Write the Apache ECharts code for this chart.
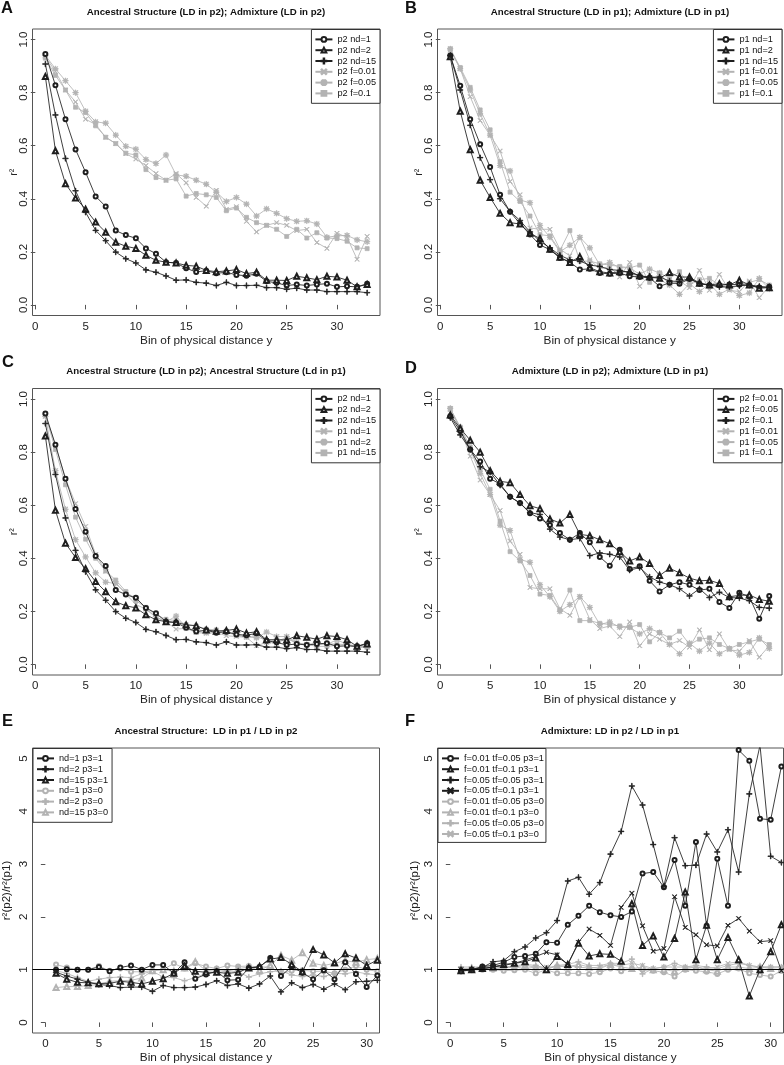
<!DOCTYPE html>
<html>
<head>
<meta charset="utf-8">
<script src="https://cdn.jsdelivr.net/npm/echarts@6/dist/echarts.min.js"></script>
<style>
html,body{margin:0;padding:0;background:#fff;}
#chart{width:784px;height:1065px;}
</style>
</head>
<body>
<div id="chart"></div>
<script>
// ---------- DATA ----------
const bins33 = [1,2,3,4,5,6,7,8,9,10,11,12,13,14,15,16,17,18,19,20,21,22,23,24,25,26,27,28,29,30,31,32,33];
const bins31 = [1,2,3,4,5,6,7,8,9,10,11,12,13,14,15,16,17,18,19,20,21,22,23,24,25,26,27,28,29,30,31];
const xTicks = [0,5,10,15,20,25,30];
const rTicks = [0,0.2,0.4,0.6,0.8,1.0];
const ratioTicks = [0,1,2,3,4,5];

// LD in p2, ancestral structure
const p2_nd1  = [0.946,0.828,0.700,0.586,0.500,0.409,0.371,0.280,0.263,0.251,0.213,0.193,0.161,0.158,0.138,0.124,0.129,0.119,0.123,0.113,0.110,0.117,0.089,0.083,0.073,0.077,0.073,0.077,0.080,0.068,0.070,0.068,0.080];
const p2_nd2  = [0.861,0.581,0.457,0.403,0.361,0.312,0.274,0.236,0.221,0.213,0.187,0.168,0.161,0.158,0.149,0.146,0.130,0.125,0.128,0.133,0.118,0.123,0.093,0.093,0.092,0.108,0.102,0.095,0.108,0.105,0.093,0.068,0.077];
const p2_nd15 = [0.908,0.716,0.552,0.430,0.349,0.281,0.242,0.199,0.174,0.158,0.132,0.123,0.109,0.093,0.094,0.085,0.082,0.073,0.085,0.073,0.073,0.074,0.065,0.065,0.059,0.063,0.056,0.056,0.050,0.050,0.050,0.050,0.046];
// LD in p2, admixture
const p2_f001 = [0.935,0.880,0.810,0.765,0.700,0.680,0.632,0.608,0.570,0.550,0.525,0.495,0.470,0.495,0.460,0.405,0.372,0.432,0.360,0.370,0.315,0.275,0.300,0.310,0.300,0.280,0.285,0.235,0.213,0.270,0.255,0.172,0.258];
const p2_f005 = [0.940,0.890,0.845,0.800,0.730,0.690,0.685,0.640,0.598,0.587,0.548,0.533,0.565,0.490,0.485,0.470,0.455,0.425,0.390,0.405,0.380,0.335,0.362,0.345,0.325,0.315,0.317,0.305,0.255,0.260,0.262,0.245,0.238];
const p2_f01  = [0.930,0.865,0.810,0.745,0.725,0.675,0.632,0.608,0.572,0.565,0.510,0.480,0.470,0.475,0.410,0.420,0.415,0.405,0.355,0.365,0.330,0.310,0.300,0.285,0.258,0.285,0.252,0.272,0.252,0.250,0.240,0.215,0.212];
// LD in p1, ancestral structure
const p1_nd1  = [0.940,0.826,0.700,0.606,0.520,0.415,0.351,0.306,0.265,0.226,0.208,0.177,0.161,0.133,0.136,0.120,0.117,0.120,0.108,0.105,0.102,0.070,0.083,0.080,0.098,0.080,0.074,0.074,0.077,0.077,0.074,0.066,0.068];
const p1_nd2  = [0.935,0.730,0.585,0.470,0.405,0.345,0.310,0.305,0.270,0.250,0.210,0.180,0.160,0.182,0.140,0.125,0.120,0.125,0.125,0.110,0.105,0.100,0.122,0.105,0.105,0.082,0.075,0.080,0.075,0.093,0.075,0.063,0.065];
const p1_nd15 = [0.940,0.810,0.677,0.555,0.472,0.400,0.352,0.318,0.275,0.240,0.215,0.187,0.170,0.165,0.150,0.145,0.133,0.130,0.122,0.110,0.103,0.105,0.090,0.088,0.100,0.080,0.075,0.068,0.068,0.072,0.075,0.070,0.065];
// LD in p1, admixture
const p1_f001 = [0.960,0.890,0.785,0.695,0.640,0.580,0.465,0.415,0.290,0.285,0.285,0.210,0.185,0.255,0.170,0.135,0.145,0.105,0.160,0.070,0.115,0.095,0.075,0.090,0.065,0.130,0.055,0.115,0.055,0.050,0.090,0.027,0.070];
const p1_f005 = [0.965,0.890,0.810,0.720,0.640,0.525,0.505,0.395,0.385,0.300,0.255,0.200,0.225,0.255,0.215,0.150,0.160,0.140,0.140,0.115,0.135,0.120,0.075,0.040,0.080,0.050,0.080,0.040,0.060,0.035,0.045,0.100,0.060];
const p1_f01  = [0.965,0.895,0.820,0.735,0.660,0.540,0.425,0.390,0.335,0.265,0.260,0.205,0.280,0.165,0.165,0.155,0.150,0.145,0.140,0.150,0.085,0.120,0.100,0.125,0.075,0.095,0.100,0.075,0.060,0.075,0.085,0.095,0.075];

// Panel E ratios
const e_nd1_p1  = [1.00,1.01,1.00,1.00,1.05,0.97,1.04,1.08,1.00,1.09,1.09,0.93,1.14,0.83,0.91,0.97,0.80,0.81,1.03,1.05,1.22,0.88,1.06,0.94,0.82,0.99,0.82,1.14,0.92,0.67,0.89];
const e_nd2_p1  = [0.95,0.88,0.82,0.76,0.72,0.70,0.66,0.67,0.67,0.59,0.70,0.66,0.66,0.67,0.72,0.79,0.70,0.73,0.65,0.73,0.88,0.58,0.75,0.66,0.72,0.63,0.73,0.62,0.77,0.78,0.80];
const e_nd15_p1 = [0.93,0.82,0.76,0.75,0.74,0.74,0.78,0.76,0.73,0.78,0.83,0.93,1.07,0.97,0.95,0.95,0.93,0.95,1.03,1.06,1.20,1.23,1.10,0.96,1.38,1.28,1.13,1.30,1.22,1.08,1.18];
const e_nd1_p0  = [1.10,1.04,1.00,1.00,1.07,0.98,1.02,0.96,0.96,0.98,1.00,1.12,1.02,1.12,1.06,1.02,1.08,1.06,1.07,1.05,1.05,0.92,0.98,0.99,0.97,0.97,0.93,1.00,1.07,1.00,0.97];
const e_nd2_p0  = [0.98,0.93,0.85,0.78,0.82,0.85,0.86,0.85,0.92,0.97,0.86,0.85,0.79,0.85,0.93,0.94,0.98,0.96,0.86,0.92,0.96,0.98,0.90,0.87,0.90,0.87,0.93,0.92,0.96,0.92,0.90];
const e_nd15_p0 = [0.66,0.68,0.68,0.70,0.72,0.78,0.79,0.80,0.84,0.98,1.00,0.97,1.03,1.15,0.98,1.00,0.98,1.02,1.05,0.99,1.08,1.27,1.18,1.32,1.12,1.08,1.12,1.17,1.14,1.19,1.21];

// Panel F ratios
const f_001_005_p1 = [0.97,1.00,1.06,1.08,1.14,1.24,1.26,1.30,1.52,1.51,1.85,2.02,2.21,2.09,2.03,2.00,2.10,2.82,2.85,2.56,3.08,2.21,3.42,1.83,3.10,2.21,5.16,4.96,3.86,3.84,4.85];
const f_001_01_p1  = [0.98,1.00,1.02,1.05,1.10,1.12,1.15,1.22,1.00,1.25,1.10,1.50,1.26,1.30,1.29,1.16,2.25,1.46,1.64,1.24,1.59,2.47,1.19,1.84,1.19,1.61,1.19,0.50,1.00,1.34,1.85];
const f_005_005_p1 = [1.00,1.00,1.04,1.15,1.17,1.34,1.43,1.60,1.70,1.93,2.68,2.75,2.43,2.65,3.19,3.62,4.48,4.12,3.37,2.58,3.50,2.97,2.98,3.57,3.23,3.65,2.85,4.33,5.25,3.15,3.03];
const f_005_01_p1  = [1.00,1.00,1.02,1.05,1.08,1.12,1.18,1.25,1.33,1.28,1.10,1.52,1.77,1.65,1.46,2.18,2.45,1.83,1.35,1.40,2.38,1.80,1.66,1.47,1.45,1.84,1.97,1.73,1.53,1.55,0.98];
const f_001_005_p0 = [0.97,0.99,1.00,1.00,0.98,0.99,1.00,0.93,1.00,0.93,0.93,0.93,0.92,0.95,1.02,0.97,1.02,1.00,0.98,0.95,0.87,1.00,0.98,0.96,0.92,1.00,1.02,0.93,0.90,0.87,0.98];
const f_001_01_p0  = [1.00,1.02,1.04,1.03,1.05,1.05,1.08,1.05,1.00,1.08,1.05,1.10,1.05,1.02,1.10,1.05,1.02,1.05,1.00,1.00,0.97,1.02,1.05,1.00,0.97,1.05,1.05,1.02,1.05,1.02,1.00];
const f_005_005_p0 = [1.05,1.05,1.05,1.08,1.05,1.07,1.10,1.08,1.02,1.08,1.10,1.15,1.08,1.08,1.12,1.12,1.20,0.92,1.02,1.05,1.12,1.05,1.08,1.05,1.02,1.08,1.12,1.08,1.05,1.05,1.05];
const f_005_01_p0  = [1.02,1.02,1.03,1.02,1.03,1.05,1.02,1.05,1.05,1.05,1.08,1.05,1.03,1.05,1.10,1.08,1.12,1.08,1.02,1.05,1.05,1.05,1.05,1.02,1.05,1.12,1.15,1.08,1.05,1.05,1.05];

const titles = [
  'Ancestral Structure (LD in p2); Admixture (LD in p2)',
  'Ancestral Structure (LD in p1); Admixture (LD in p1)',
  'Ancestral Structure (LD in p2); Ancestral Structure (Ld in p1)',
  'Admixture (LD in p2); Admixture (LD in p1)',
  'Ancestral Structure:  LD in p1 / LD in p2',
  'Admixture: LD in p2 / LD in p1'
];
const letters = ['A','B','C','D','E','F'];

// ---------- STYLE ----------
const BLACK = '#1e1e1e', GRAY = '#b3b3b3', FRAME = '#555';
const FONT = '"Liberation Sans", Arial, Helvetica, sans-serif';
const PLUS = 'path://M4.45,0H5.55V4.45H10V5.55H5.55V10H4.45V5.55H0V4.45H4.45Z';
const CROSS = 'path://M0,0.8L0.8,0L5,4.2L9.2,0L10,0.8L5.8,5L10,9.2L9.2,10L5,5.8L0.8,10L0,9.2L4.2,5Z';
const AST = 'path://M4.45,0H5.55V4.45H10V5.55H5.55V10H4.45V5.55H0V4.45H4.45Z M0.7,1.5L1.5,0.7L5,4.2L8.5,0.7L9.3,1.5L5.8,5L9.3,8.5L8.5,9.3L5,5.8L1.5,9.3L0.7,8.5L4.2,5Z';
const SYM = {
  o: ['emptyCircle', 4],
  t: ['emptyTriangle', 5],
  p: [PLUS, 5.5],
  x: [CROSS, 4.5],
  a: [AST, 5.5],
  s: ['rect', 4]
};

const grids = [
  {left: 32.5, top: 29, width: 347.5, height: 286.5},
  {left: 437.5, top: 29, width: 344.5, height: 286.5},
  {left: 32.5, top: 388.5, width: 347.5, height: 286.5},
  {left: 437.5, top: 388.5, width: 344.5, height: 286.5},
  {left: 32.5, top: 748, width: 347, height: 286},
  {left: 437.5, top: 748, width: 346, height: 286}
];

const series = [];
const legendNames = [[],[],[],[],[],[]];
function add(gi, name, vals, bins, sym, color) {
  const full = letters[gi] + '|' + name;
  legendNames[gi].push(full);
  const s = {
    type: 'line', name: full, xAxisIndex: gi, yAxisIndex: gi,
    data: bins.map((b, i) => [b, vals[i]]).filter(d => d[1] != null),
    symbol: SYM[sym][0], symbolSize: SYM[sym][1], showAllSymbol: true,
    lineStyle: {color: color, width: 0.85},
    itemStyle: {color: color, borderColor: color, borderWidth: 0.75},
    emphasis: {disabled: true}, clip: true, z: color === BLACK ? 3 : 2
  };
  series.push(s);
  return s;
}

// A
add(0,'p2 nd=1',p2_nd1,bins33,'o',BLACK);
add(0,'p2 nd=2',p2_nd2,bins33,'t',BLACK);
add(0,'p2 nd=15',p2_nd15,bins33,'p',BLACK);
add(0,'p2 f=0.01',p2_f001,bins33,'x',GRAY);
add(0,'p2 f=0.05',p2_f005,bins33,'a',GRAY);
add(0,'p2 f=0.1',p2_f01,bins33,'s',GRAY);
// B
add(1,'p1 nd=1',p1_nd1,bins33,'o',BLACK);
add(1,'p1 nd=2',p1_nd2,bins33,'t',BLACK);
add(1,'p1 nd=15',p1_nd15,bins33,'p',BLACK);
add(1,'p1 f=0.01',p1_f001,bins33,'x',GRAY);
add(1,'p1 f=0.05',p1_f005,bins33,'a',GRAY);
add(1,'p1 f=0.1',p1_f01,bins33,'s',GRAY);
// C
add(2,'p2 nd=1',p2_nd1,bins33,'o',BLACK);
add(2,'p2 nd=2',p2_nd2,bins33,'t',BLACK);
add(2,'p2 nd=15',p2_nd15,bins33,'p',BLACK);
add(2,'p1 nd=1',p1_nd1,bins33,'x',GRAY);
add(2,'p1 nd=2',p1_nd2,bins33,'a',GRAY);
add(2,'p1 nd=15',p1_nd15,bins33,'s',GRAY);
// D
add(3,'p2 f=0.01',p2_f001,bins33,'o',BLACK);
add(3,'p2 f=0.05',p2_f005,bins33,'t',BLACK);
add(3,'p2 f=0.1',p2_f01,bins33,'p',BLACK);
add(3,'p1 f=0.01',p1_f001,bins33,'x',GRAY);
add(3,'p1 f=0.05',p1_f005,bins33,'a',GRAY);
add(3,'p1 f=0.1',p1_f01,bins33,'s',GRAY);
// E
const refLine = {silent: true, symbol: 'none', label: {show: false}, lineStyle: {color: '#000', width: 1, type: 'solid'}, data: [{yAxis: 1}]};
add(4,'nd=1 p3=1',e_nd1_p1,bins31,'o',BLACK).markLine = refLine;
add(4,'nd=2 p3=1',e_nd2_p1,bins31,'p',BLACK);
add(4,'nd=15 p3=1',e_nd15_p1,bins31,'t',BLACK);
add(4,'nd=1 p3=0',e_nd1_p0,bins31,'o',GRAY);
add(4,'nd=2 p3=0',e_nd2_p0,bins31,'p',GRAY);
add(4,'nd=15 p3=0',e_nd15_p0,bins31,'t',GRAY);
// F
add(5,'f=0.01 tf=0.05 p3=1',f_001_005_p1,bins31,'o',BLACK).markLine = refLine;
add(5,'f=0.01 tf=0.1 p3=1',f_001_01_p1,bins31,'t',BLACK);
add(5,'f=0.05 tf=0.05 p3=1',f_005_005_p1,bins31,'p',BLACK);
add(5,'f=0.05 tf=0.1 p3=1',f_005_01_p1,bins31,'x',BLACK);
add(5,'f=0.01 tf=0.05 p3=0',f_001_005_p0,bins31,'o',GRAY);
add(5,'f=0.01 tf=0.1 p3=0',f_001_01_p0,bins31,'t',GRAY);
add(5,'f=0.05 tf=0.05 p3=0',f_005_005_p0,bins31,'p',GRAY);
add(5,'f=0.05 tf=0.1 p3=0',f_005_01_p0,bins31,'x',GRAY);

const xAxes = grids.map((g, i) => {
  const ratio = i >= 4;
  return {
    type: 'value', gridIndex: i,
    min: ratio ? -1.2 : -0.28, max: ratio ? 31.2 : 34.28,
    axisLine: {show: false},
    splitLine: {show: false},
    axisTick: {show: true, length: 4.5, inside: false, customValues: xTicks, lineStyle: {color: FRAME, width: 1}},
    axisLabel: {show: true, customValues: xTicks, margin: 5, fontSize: 11.5, color: '#222', fontFamily: FONT},
    name: 'Bin of physical distance y', nameLocation: 'middle', nameGap: 19, nameMoveOverlap: false,
    nameTextStyle: {fontSize: 11.8, color: '#222', fontFamily: FONT}
  };
});
const yAxes = grids.map((g, i) => {
  const ratio = i >= 4;
  const ticks = ratio ? ratioTicks : rTicks;
  return {
    type: 'value', gridIndex: i,
    min: ratio ? -0.2 : -0.04, max: ratio ? 5.2 : 1.04,
    axisLine: {show: false},
    splitLine: {show: false},
    axisTick: {show: true, length: 4.5, inside: false, customValues: ticks, lineStyle: {color: FRAME, width: 1}},
    axisLabel: {show: true, customValues: ticks, rotate: 90, margin: 3, align: 'center', verticalAlign: 'bottom',
      fontSize: 11.5, color: '#222', fontFamily: FONT,
      formatter: v => ratio ? String(Math.round(v)) : v.toFixed(1)},
    name: ratio ? 'r²(p2)/r²(p1)' : 'r²', nameLocation: 'middle', nameRotate: 90, nameMoveOverlap: false,
    nameGap: ratio ? (i === 4 ? 19.5 : 17) : 12.5,
    nameTextStyle: {fontSize: ratio ? 11.5 : 10.5, color: '#222', fontFamily: FONT}
  };
});

const legendBase = {
  orient: 'vertical', itemWidth: 17, itemHeight: 6, itemGap: 0,
  padding: [4.5, 4, 4.5, 3], borderColor: '#333', borderWidth: 1, borderRadius: 0,
  backgroundColor: '#fff', selectedMode: false, align: 'left',
  textStyle: {fontSize: 9.2, lineHeight: 10.8, color: '#111', fontFamily: FONT},
  formatter: n => n.split('|')[1]
};
const legends = [
  Object.assign({}, legendBase, {data: legendNames[0], right: 784 - 380, top: 29.5}),
  Object.assign({}, legendBase, {data: legendNames[1], right: 784 - 782, top: 29.5}),
  Object.assign({}, legendBase, {data: legendNames[2], right: 784 - 380, top: 389}),
  Object.assign({}, legendBase, {data: legendNames[3], right: 784 - 782, top: 389}),
  Object.assign({}, legendBase, {data: legendNames[4], left: 33, top: 748.5}),
  Object.assign({}, legendBase, {data: legendNames[5], left: 438, top: 748.5, padding: [4.5, 2, 3, 3]})
];

const titlePos = [[206, 12], [610, 12], [206, 371], [610, 371], [206, 731], [610, 731]];
const letterPos = [[1, 0], [405, 0], [2, 354], [405, 360], [2, 713], [405, 713]];
const graphics = [];
titles.forEach((t, i) => {
  graphics.push({type: 'text', x: titlePos[i][0], y: titlePos[i][1],
    style: {text: t, textAlign: 'center', textVerticalAlign: 'middle', fontSize: 9.7, fontWeight: 'bold', fontFamily: FONT, fill: '#111'}});
  graphics.push({type: 'text', x: letterPos[i][0], y: letterPos[i][1],
    style: {text: letters[i], textAlign: 'left', textVerticalAlign: 'top', fontSize: 16.5, fontWeight: 'bold', fontFamily: FONT, fill: '#111'}});
});

const chart = echarts.init(document.getElementById('chart'), null, {renderer: 'canvas'});
chart.setOption({
  animation: false,
  backgroundColor: '#fff',
  grid: grids.map(g => Object.assign({show: true, borderColor: FRAME, borderWidth: 1, backgroundColor: 'transparent', containLabel: false}, g)),
  xAxis: xAxes,
  yAxis: yAxes,
  legend: legends,
  series: series,
  graphic: graphics
});
</script>
</body>
</html>
